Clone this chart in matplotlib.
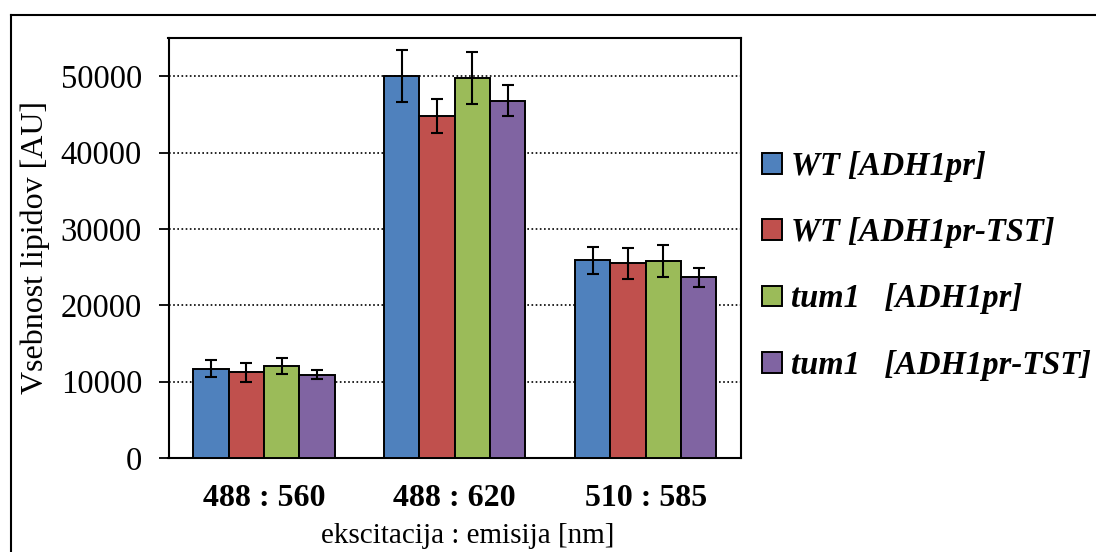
import numpy as np
import matplotlib
matplotlib.use("Agg")
import matplotlib.pyplot as plt
from matplotlib.lines import Line2D

plt.rcParams['font.family'] = ['Liberation Serif', 'DejaVu Serif']

## data

categories = ['488 : 560', '488 : 620', '510 : 585']
series_names = ['WT [ADH1pr]', 'WT [ADH1pr-TST]', 'tum1   [ADH1pr]', 'tum1   [ADH1pr-TST]']

wt_adh1 = [11700, 50000, 25900]
wt_adh1_err = [1100, 3400, 1750]
wt_tst = [11200, 44800, 25500]
wt_tst_err = [1250, 2250, 2000]
tum1_adh1 = [12000, 49800, 25800]
tum1_adh1_err = [1050, 3400, 2050]
tum1_tst = [10900, 46800, 23650]
tum1_tst_err = [600, 2050, 1270]

colors = ['#4F81BD', '#C0504D', '#9BBB59', '#8064A2']

W, H = 1096, 552
fig = plt.figure(figsize=(W / 100, H / 100), dpi=100)

# outer chart border (only top and left edges fall inside the picture)
fig.add_artist(Line2D([10.5 / W, 1.0], [1 - 15 / H, 1 - 15 / H], color='black', lw=1.5))
fig.add_artist(Line2D([10.5 / W, 10.5 / W], [0.0, 1 - 15 / H], color='black', lw=1.5))

ax = fig.add_axes([168.5 / W, (H - 458) / H, (741 - 168.5) / W, (458 - 38) / H])

x = np.arange(len(categories))
bw = 0.185
vals = [wt_adh1, wt_tst, tum1_adh1, tum1_tst]
errs = [wt_adh1_err, wt_tst_err, tum1_adh1_err, tum1_tst_err]

for i in range(4):
    ax.bar(x + (i - 1.5) * bw, vals[i], bw, color=colors[i], edgecolor='black',
           linewidth=1.4, label=series_names[i], zorder=3,
           yerr=errs[i], capsize=4.5,
           error_kw=dict(ecolor='black', elinewidth=1.5, capthick=1.5, zorder=4))

ax.set_xlim(-0.5, 2.5)
ax.set_ylim(0, 55000)
ax.set_yticks(np.arange(0, 50001, 10000))
ax.set_xticks(x)
ax.set_xticklabels(categories, fontsize=23, fontweight='bold')
ax.tick_params(axis='x', length=0, pad=19)
ax.tick_params(axis='y', length=7, width=1.3, direction='out', labelsize=23.5, pad=12)

ax.yaxis.grid(True, linestyle=(0, (1, 1.5)), color='black', linewidth=1.2, zorder=0)
ax.set_axisbelow(True)
for s in ax.spines.values():
    s.set_linewidth(1.5)

ax.set_ylabel('Vsebnost lipidov [AU]', fontsize=23, labelpad=8)
ax.set_xlabel('ekscitacija : emisija [nm]', fontsize=21)
ax.xaxis.set_label_coords(0.523, -0.155)

fig.legend(loc='upper left', bbox_to_anchor=(762 / W, 1 - 151 / H), frameon=False,
           prop=dict(family='Liberation Serif', size=23.5, weight='bold', style='italic'),
           handlelength=0.6, handleheight=0.6, handletextpad=0.3, labelspacing=1.08,
           borderaxespad=0, borderpad=0)

fig.savefig('out.png', dpi=100)
